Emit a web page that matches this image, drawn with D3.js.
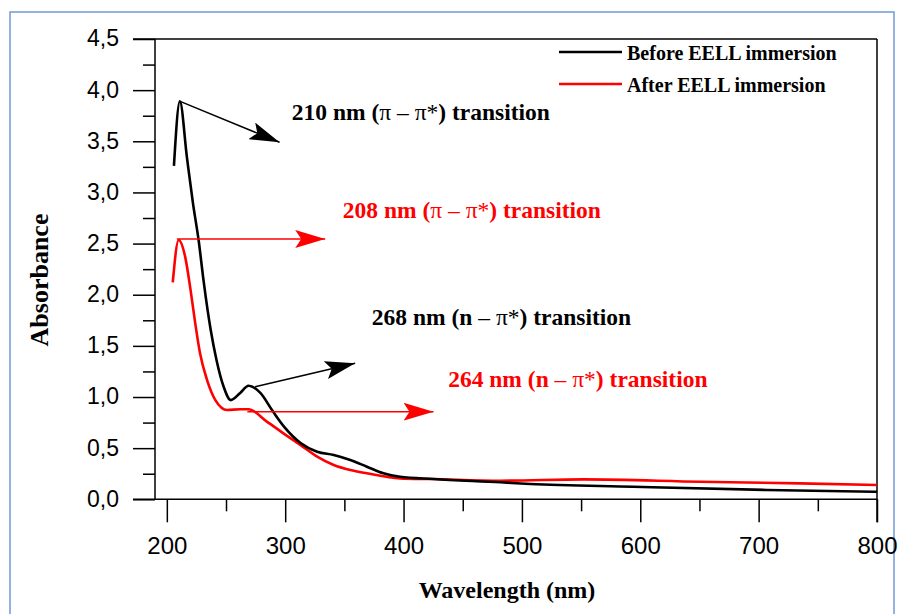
<!DOCTYPE html>
<html>
<head>
<meta charset="utf-8">
<script src="https://cdn.jsdelivr.net/npm/d3@7"></script>
<style>
  body { margin: 0; background: #fff; }
  svg { display: block; }
</style>
</head>
<body>
<script>
// spectra (wavelength nm, absorbance)
var beforeWl = [206, 211, 217, 222, 227, 231, 237, 242, 248, 254, 262, 269, 279, 289, 299, 313, 327, 341, 355, 369, 383, 397, 425, 482, 507, 594, 707, 800];
var beforeAbs = [3.26, 3.89, 3.34, 2.9, 2.52, 2.14, 1.66, 1.36, 1.10, 0.97, 1.04, 1.11, 1.04, 0.87, 0.71, 0.55, 0.465, 0.433, 0.384, 0.319, 0.254, 0.22, 0.198, 0.166, 0.15, 0.123, 0.091, 0.074];

var afterWl = [205, 210, 215.5, 220, 224, 228, 234, 241, 251, 262, 269, 284.5, 298.5, 313, 327, 341, 355, 369, 397, 425, 482, 552, 651, 735, 800];
var afterAbs = [2.12, 2.535, 2.37, 2.05, 1.72, 1.43, 1.166, 0.97, 0.873, 0.88, 0.88, 0.76, 0.645, 0.53, 0.417, 0.335, 0.286, 0.254, 0.205, 0.198, 0.182, 0.195, 0.172, 0.156, 0.14];

var seriesNames = ["Before EELL immersion", "After EELL immersion"];
var seriesColors = ["#000000", "#ff0000"];

var xTicks = [200, 300, 400, 500, 600, 700, 800];
var xMinorTicks = [250, 350, 450, 550, 650, 750];
var yTicks = [0, 0.5, 1, 1.5, 2, 2.5, 3, 3.5, 4, 4.5];
var yTickLabels = ["0,0", "0,5", "1,0", "1,5", "2,0", "2,5", "3,0", "3,5", "4,0", "4,5"];
var yMinorTicks = [0.25, 0.75, 1.25, 1.75, 2.25, 2.75, 3.25, 3.75, 4.25];

// annotations: label anchor and arrow, in data units
var noteText = ["210 nm", "208 nm", "268 nm", "264 nm"];
var noteKind = ["\u03c0", "\u03c0", "n", "n"];
var noteColor = ["#000000", "#ff0000", "#000000", "#ff0000"];
var noteLabelAt = [[305.6, 3.708], [348.7, 2.753], [373.2, 1.704], [437.7, 1.10]];
var noteArrowFrom = [[211.2, 3.89], [208.5, 2.545], [274.6, 1.10], [268, 0.856]];
var noteArrowTo = [[295.2, 3.49], [333.8, 2.545], [359.1, 1.33], [425.3, 0.856]];

var width = 905, height = 614;
var plotL = 155, plotR = 877, plotT = 39, plotB = 499.3;

var svg = d3.select('body').append('svg').attr('width', width).attr('height', height);

// outer frame
svg.append('rect').attr('x', 10).attr('y', 12).attr('width', 884).attr('height', 640)
   .attr('fill', 'none').attr('stroke', '#6f9bd3').attr('stroke-width', 1.5);

var x = d3.scaleLinear().domain([190, 800]).range([plotL, plotR]);
var y = d3.scaleLinear().domain([0, 4.5]).range([plotB, plotT]);

var tickFont = '"Liberation Sans", Arial, sans-serif';
var serif = '"Liberation Serif", "Times New Roman", serif';

// y axis
svg.append('g').attr('class', 'yaxis').attr('transform', 'translate(' + plotL + ',0)')
   .call(d3.axisLeft(y).tickValues(yTicks).tickSize(22).tickPadding(14)
     .tickFormat(function (d, i) { return yTickLabels[i]; }));
svg.append('g').attr('transform', 'translate(' + plotL + ',0)')
   .call(d3.axisLeft(y).tickValues(yMinorTicks).tickSize(12).tickFormat(''));

// x axis
svg.append('g').attr('class', 'xaxis').attr('transform', 'translate(0,' + plotB + ')')
   .call(d3.axisBottom(x).tickValues(xTicks).tickSize(23).tickPadding(15));
svg.append('g').attr('transform', 'translate(0,' + plotB + ')')
   .call(d3.axisBottom(x).tickValues(xMinorTicks).tickSize(12).tickFormat(''));

svg.selectAll('.domain').remove();
svg.selectAll('.tick line').attr('stroke', '#000').attr('stroke-width', 1.5);
svg.selectAll('.tick text').attr('font-family', tickFont).attr('fill', '#000');
svg.selectAll('.yaxis .tick text').attr('font-size', 23).attr('dy', '0.3em');
svg.selectAll('.xaxis .tick text').attr('font-size', 24);

// frame lines
var frame = svg.append('g').attr('stroke', '#000').attr('stroke-width', 1.5);
frame.append('line').attr('x1', plotL - 22).attr('x2', plotR).attr('y1', plotT).attr('y2', plotT);
frame.append('line').attr('x1', plotL - 22).attr('x2', plotR).attr('y1', plotB).attr('y2', plotB);
frame.append('line').attr('x1', plotL).attr('x2', plotL).attr('y1', plotT).attr('y2', plotB);
frame.append('line').attr('x1', plotR).attr('x2', plotR).attr('y1', plotT).attr('y2', plotB + 23);

// axis titles
svg.append('text').attr('transform', 'translate(48,280) rotate(-90)')
   .attr('text-anchor', 'middle').attr('font-family', serif).attr('font-weight', 'bold')
   .attr('font-size', 26).text('Absorbance');
svg.append('text').attr('x', 507).attr('y', 598)
   .attr('text-anchor', 'middle').attr('font-family', serif).attr('font-weight', 'bold')
   .attr('font-size', 24).text('Wavelength (nm)');

// spectra
var line = d3.line()
   .x(function (d) { return x(d[0]); })
   .y(function (d) { return y(d[1]); })
   .curve(d3.curveMonotoneX);

var series = [d3.zip(beforeWl, beforeAbs), d3.zip(afterWl, afterAbs)];
svg.selectAll('path.spec')
   .data([series[1], series[0]])
   .enter()
   .append('path')
   .attr('class', 'spec')
   .attr('d', line)
   .attr('fill', 'none')
   .attr('stroke', function (d, i) { return seriesColors[1 - i]; })
   .attr('stroke-width', 2.6)
   .attr('stroke-linejoin', 'round');

// arrowheads
var defs = svg.append('defs');
['#000000', '#ff0000'].forEach(function (c, i) {
  defs.append('marker')
     .attr('id', 'head' + i)
     .attr('markerUnits', 'userSpaceOnUse')
     .attr('markerWidth', 32).attr('markerHeight', 18)
     .attr('refX', 30).attr('refY', 9)
     .attr('orient', 'auto')
     .append('path').attr('d', 'M0,0 L30,9 L0,18 L6,9 Z').attr('fill', c);
});

noteText.forEach(function (t, i) {
  var c = noteColor[i];
  svg.append('line')
     .attr('x1', x(noteArrowFrom[i][0])).attr('y1', y(noteArrowFrom[i][1]))
     .attr('x2', x(noteArrowTo[i][0])).attr('y2', y(noteArrowTo[i][1]))
     .attr('stroke', c).attr('stroke-width', 1.5)
     .attr('marker-end', 'url(#head' + (c === '#000000' ? 0 : 1) + ')');

  var label = svg.append('text')
     .attr('x', x(noteLabelAt[i][0])).attr('y', y(noteLabelAt[i][1]))
     .attr('font-family', serif).attr('font-weight', 'bold').attr('font-size', 23.5)
     .attr('fill', c);
  label.append('tspan').text(t + ' (');
  label.append('tspan').attr('font-weight', noteKind[i] === 'n' ? 'bold' : 'normal').text(noteKind[i]);
  label.append('tspan').attr('font-weight', 'normal').text(' \u2013 \u03c0*');
  label.append('tspan').text(') transition');
});

// legend
var legend = svg.append('g');
seriesNames.forEach(function (name, i) {
  var ly = 52 + i * 32;
  legend.append('line').attr('x1', 559).attr('x2', 622).attr('y1', ly).attr('y2', ly)
     .attr('stroke', seriesColors[i]).attr('stroke-width', 2.5);
  legend.append('text').attr('x', 627).attr('y', ly + 8)
     .attr('font-family', serif).attr('font-weight', 'bold').attr('font-size', 20)
     .text(name);
});
</script>
</body>
</html>
